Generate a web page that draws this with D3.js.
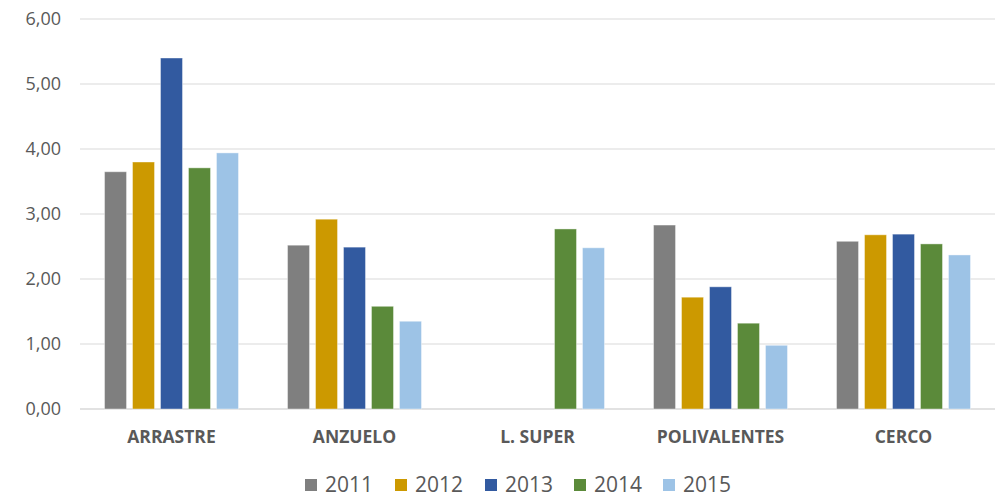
<!DOCTYPE html>
<html>
<head>
<meta charset="utf-8">
<script src="https://cdn.jsdelivr.net/npm/d3@7"></script>
<style>
  body { margin: 0; background: #fff; }
  svg text { font-family: "Open Sans", "Liberation Sans", sans-serif; fill: #595959; }
</style>
</head>
<body>
<svg id="chart" width="995" height="498"></svg>
<script>
// chart data
var categories = ["ARRASTRE", "ANZUELO", "L. SUPER", "POLIVALENTES", "CERCO"];
var years = ["2011", "2012", "2013", "2014", "2015"];
var colors = ["#7f7f7f", "#cc9900", "#325aa0", "#5b8a3a", "#9dc3e6"];
// values per year, one entry per category (null = no bar)
var v2011 = [3.65, 2.52, null, 2.83, 2.58];
var v2012 = [3.80, 2.92, null, 1.72, 2.68];
var v2013 = [5.40, 2.49, null, 1.88, 2.69];
var v2014 = [3.71, 1.58, 2.77, 1.32, 2.54];
var v2015 = [3.94, 1.35, 2.48, 0.98, 2.37];
var yTicks = [0, 1, 2, 3, 4, 5, 6];

var series = [v2011, v2012, v2013, v2014, v2015];

var svg = d3.select("#chart");
var plotLeft = 80, plotRight = 995, plotTop = 19, plotBottom = 409;

var x0 = d3.scaleBand().domain(categories).range([plotLeft, plotRight])
  .paddingInner(0.268).paddingOuter(0.134);
var x1 = d3.scaleBand().domain(years).range([0, x0.bandwidth()])
  .paddingInner(0.214).paddingOuter(0);
var y = d3.scaleLinear().domain([0, 6]).range([plotBottom, plotTop]);

// gridlines
svg.append("g").selectAll("line")
  .data(yTicks)
  .enter().append("line")
    .attr("x1", plotLeft).attr("x2", plotRight)
    .attr("y1", function(d) { return y(d); })
    .attr("y2", function(d) { return y(d); })
    .attr("stroke", "#d9d9d9")
    .attr("stroke-width", function(d) { return d === 0 ? 1.5 : 1; });

// y labels
svg.append("g").selectAll("text")
  .data(yTicks)
  .enter().append("text")
    .attr("x", 61)
    .attr("y", function(d) { return y(d); })
    .attr("dy", "0.35em")
    .attr("text-anchor", "end")
    .style("font-size", "18px")
    .text(function(d) { return d3.format(".2f")(d).replace(".", ","); });

// bars
var rows = [];
categories.forEach(function(c, ci) {
  years.forEach(function(yr, si) {
    var val = series[si][ci];
    if (val != null) rows.push({cat: c, year: yr, value: val, color: colors[si]});
  });
});

svg.append("g").selectAll("rect")
  .data(rows)
  .enter().append("rect")
    .attr("x", function(d) { return x0(d.cat) + x1(d.year); })
    .attr("y", function(d) { return y(d.value); })
    .attr("width", x1.bandwidth())
    .attr("height", function(d) { return plotBottom - y(d.value); })
    .attr("fill", function(d) { return d.color; })
    .attr("stroke", "#fff")
    .attr("stroke-opacity", 0.4)
    .attr("stroke-width", 1);

// category labels
svg.append("g").selectAll("text")
  .data(categories)
  .enter().append("text")
    .attr("x", function(d) { return x0(d) + x0.bandwidth() / 2; })
    .attr("y", 443)
    .attr("text-anchor", "middle")
    .style("font-size", "17.5px")
    .style("font-weight", "bold")
    .text(function(d) { return d; });

// legend
var legendX = [305, 395, 485, 574, 663];
var legend = svg.append("g").selectAll("g")
  .data(years)
  .enter().append("g")
    .attr("transform", function(d, i) { return "translate(" + legendX[i] + ",0)"; });
legend.append("rect")
  .attr("x", 0).attr("y", 479)
  .attr("width", 12).attr("height", 12)
  .attr("fill", function(d, i) { return colors[i]; });
legend.append("text")
  .attr("x", 20).attr("y", 492)
  .style("font-size", "21px")
  .text(function(d) { return d; });
</script>
</body>
</html>
